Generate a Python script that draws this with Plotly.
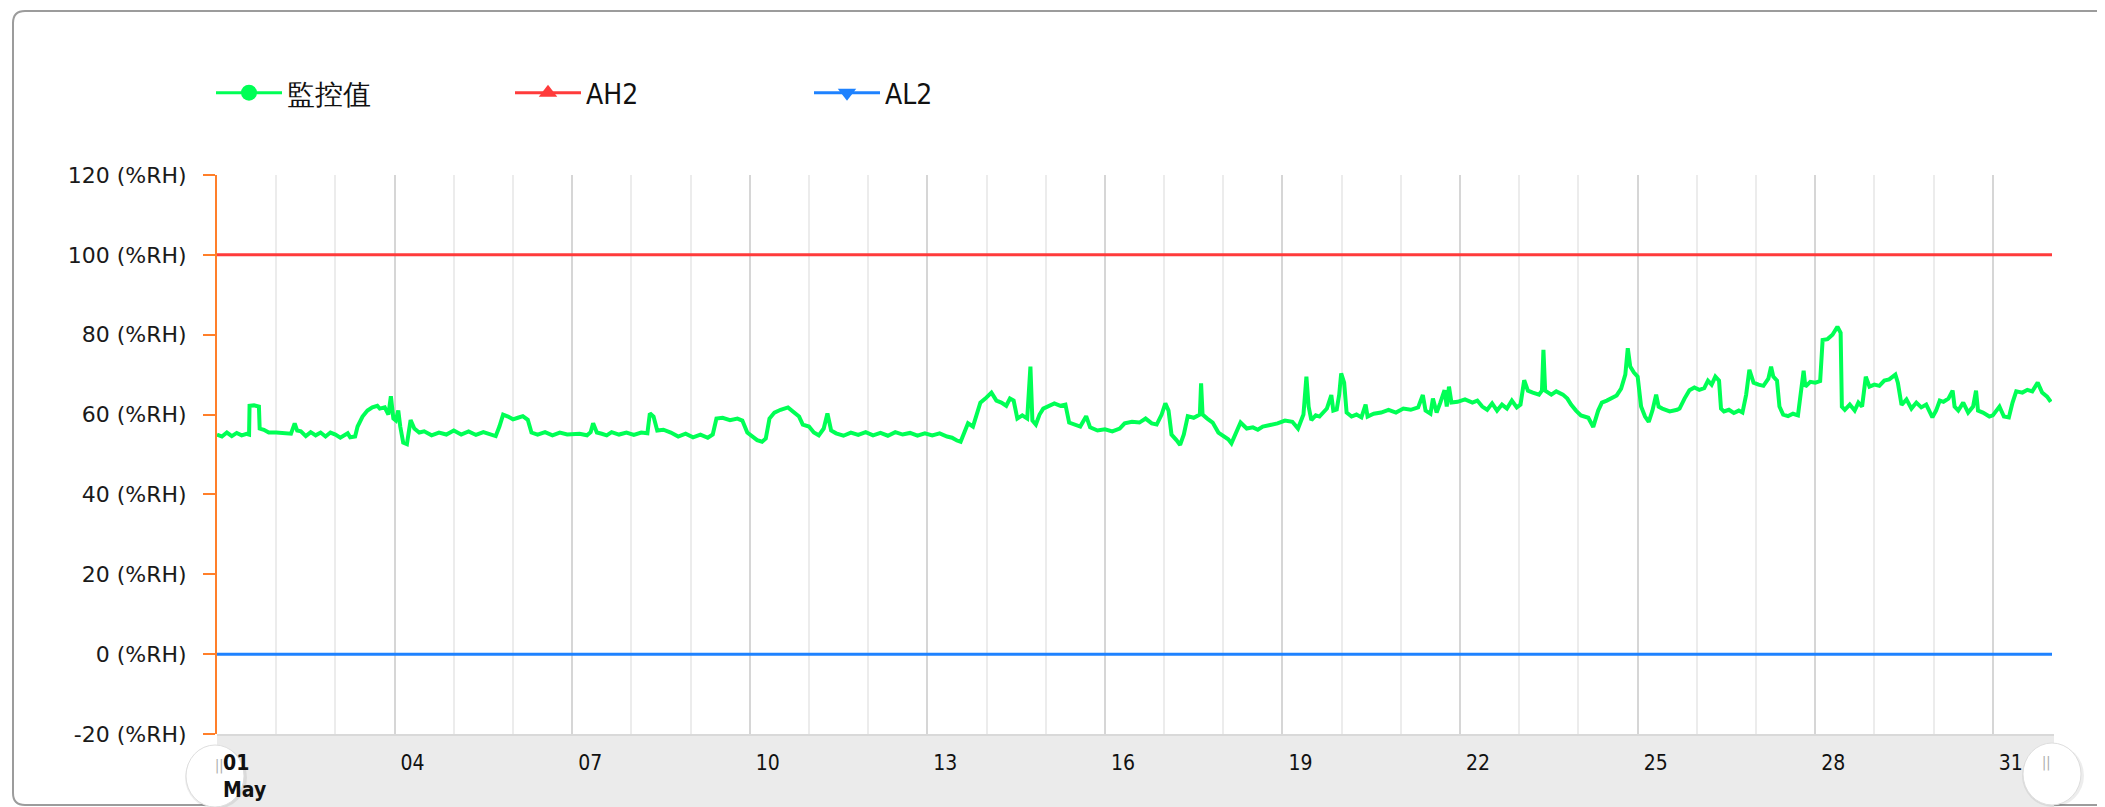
import pandas as pd
import plotly.graph_objects as go

# ---------------- data ----------------
START = "2023-05-01 00:00"
END = "2023-06-01 00:00"

# hours since May 1 00:00 and monitored humidity values (%RH)
monitor_hours = [
    0, 2, 4, 6, 8, 10, 12, 13, 13.2, 15, 17, 17.3, 19, 21, 24, 27, 30, 31.5, 32.5, 34,
    36, 38, 40, 42, 44, 46, 48, 50, 53, 54, 56, 57, 59, 61, 63, 65, 66, 68, 69.5, 70.5,
    71.5, 72.5, 73.5, 74.3, 75.5, 77, 78.5, 80, 82, 84, 87, 90, 93, 96, 99, 102, 105, 108, 111, 113,
    114.5, 116, 118, 120, 122, 124, 126, 127.5, 130, 133, 136, 139, 142, 147,
    150, 151.5, 152.5, 154, 156, 158, 160, 163, 166, 169, 172, 174.5, 175.5, 177, 178.5, 181,
    184, 187, 190, 193, 196, 199, 201, 202.5, 205, 208, 211, 213, 215, 217, 219, 221, 222.5, 224,
    226, 228.5, 231.5, 234, 236, 237.5, 240, 242, 244, 246, 247.5, 249, 251, 254, 257, 260, 263,
    266, 269, 272, 275, 278, 281, 284, 287, 290, 293,
    296, 298, 300, 301.5, 303, 304.5, 306.5, 308, 309.5, 311.5, 314, 316, 318, 320, 321.5, 323,
    324.5, 326.5, 328.5, 329.8, 330.6, 332, 333.5, 335, 337, 339.5, 342, 344, 345.5, 347.5, 350,
    352.4, 354, 357, 360, 363, 366, 368, 371, 374, 376.5, 379, 381, 383, 384.5, 385.8, 387, 389,
    390.5, 392, 393.6, 396, 398.5, 399, 399.6, 401.5, 403.7, 406, 408, 410, 411.3, 413, 415,
    417.5, 420, 422, 424, 427, 430, 433, 436,
    438.3, 440.5, 441.7, 442.6, 443.7, 445.5, 447, 448.4, 450, 451.8, 452.6, 454, 455, 455.8, 457,
    458, 460, 462, 464, 465.7, 466.5, 469, 472, 475, 478, 481, 484, 487, 488.9, 490, 492, 493,
    494.5, 496, 497.7, 498.6, 499.5, 500.5, 503, 506, 509, 511, 513, 515, 517, 519, 521, 523, 525,
    527, 528.5, 530, 531.5, 533.5, 536, 537.2, 537.8, 538.5, 541, 543, 545.7, 547.5, 549, 551,
    553, 556, 558, 560, 561.5, 563.5, 565.5, 567.5, 569.3, 571, 572, 573, 574.5, 576, 577.4, 579,
    580.5, 582, 583.5, 584.5, 586, 589, 592,
    593, 595, 597, 599, 601, 603, 604.5, 606, 607.5, 609, 609.8, 611, 613, 615, 617, 618.5, 620,
    621.3, 623, 625, 627, 629, 630.1, 631, 632.5, 633.5, 635, 637, 639, 641, 642, 643.3, 644, 646,
    648, 650, 651, 653, 655, 657, 658.3, 658.8, 660, 662, 664, 665.5, 667, 668.5, 670, 672, 674,
    676, 678, 680.5, 681.5, 683, 685, 687, 689, 691, 693, 695.5, 697, 698.5, 700, 702, 703.7,
    704.5, 706, 708, 710, 712, 713.2, 714, 716, 718.6, 720, 722.7, 724.5, 726.5, 728, 729.5, 732,
    734, 736, 738.2, 740, 742, 743.5,
]
monitor_values = [
    55, 54.5, 55.5, 54.6, 55.4, 54.8, 55.2, 55, 62.2, 62.3, 62, 56.5, 56.2, 55.5, 55.5, 55.3, 55.2, 57.8, 56, 55.8,
    54.6, 55.6, 54.8, 55.5, 54.5, 55.5, 55, 54.2, 55.3, 54.3, 54.5, 57, 59.5, 61, 61.8, 62.2, 61.5, 61.8, 60, 64.6,
    59, 58.5, 61, 57, 53, 52.6, 58.6, 56.5, 55.5, 55.8, 54.8, 55.5, 55, 56, 55, 55.8, 54.9, 55.6, 55, 54.6,
    57, 60, 59.5, 58.8, 59.2, 59.6, 58.7, 55.5, 55, 55.6, 54.8, 55.5, 55, 55.2,
    54.8, 55.6, 57.8, 55.5, 55.2, 54.8, 55.6, 55, 55.5, 54.9, 55.5, 55.3, 60.3, 59.5, 56, 56.2,
    55.5, 54.5, 55.2, 54.3, 55, 54.2, 55, 59, 59.2, 58.6, 59, 58.5, 55.5, 54.5, 53.6, 53.2, 54, 59,
    60.5, 61.2, 61.8, 60.5, 59.5, 57.5, 57, 55.5, 54.8, 56.5, 60.3, 56, 55.3, 54.7, 55.5, 54.9, 55.6,
    54.8, 55.4, 54.7, 55.6, 55, 55.4, 54.7, 55.3, 54.8, 55.3,
    54.5, 54.2, 53.5, 53.2, 55.5, 57.8, 57, 60, 63, 64, 65.5, 63.5, 63, 62.2, 64, 63.5,
    59, 59.8, 59, 72, 58.5, 57.5, 60, 61.5, 62, 62.8, 62.2, 62.5, 58, 57.5, 57,
    59.6, 56.8, 56, 56.3, 55.8, 56.5, 57.8, 58.2, 58, 59, 57.8, 57.5, 60, 62.8, 61, 55, 53.6,
    52.4, 55, 59.6, 59.2, 60, 67.8, 60, 59, 58, 55.5, 54.5, 53.8, 52.8, 55.5, 58,
    56.5, 56.8, 56.2, 57, 57.4, 57.8, 58.5, 58.2,
    56.5, 60, 69.5, 62, 58.6, 59.8, 59.5, 60.3, 61.5, 64.9, 61, 61.3, 65, 70.3, 68,
    60.5, 59.5, 60, 59.3, 62.5, 59.5, 60.2, 60.5, 61.2, 60.5, 61.5, 61.2, 61.8, 64.9, 61, 60.2, 64,
    60.5, 63, 66.1, 62, 67, 63, 63.2, 63.8, 63, 63.5, 62, 61.2, 62.8, 61, 62.5, 61.5, 63.5,
    61.8, 62.5, 68.6, 66, 65.5, 65, 66, 76.2, 66, 65, 65.8, 65, 64, 62.5, 61,
    59.8, 59.2, 56.9, 61, 63, 63.5, 64.2, 64.8, 66.5, 70, 76.6, 72, 70.5, 69.5, 62, 59.5,
    58.2, 61, 65, 62, 61.5, 60.8, 61.2,
    61.5, 64, 66.1, 66.8, 66.2, 66.6, 68.5, 67.5, 69.5, 68.5, 61.5, 60.8, 61.2, 60.4, 61, 60.5, 65,
    71.2, 68, 67.5, 67.2, 69, 72, 69.5, 68.5, 62, 60, 59.6, 60.2, 59.8, 64, 71, 67, 68.2,
    68, 68.4, 78.7, 78.9, 80, 82, 80.5, 62, 61.2, 62.5, 61, 63, 62, 69.5, 67, 67.5, 67.2,
    68.5, 68.8, 70, 68, 62.4, 63.8, 61.5, 63, 61.8, 62.5, 59.3, 61, 63.5, 63.2, 64, 66,
    62, 61, 63, 60.5, 62, 66, 61, 60.5, 59.5, 59.8, 62, 59.5, 59.3, 63, 65.8, 65.5,
    66.2, 65.8, 68, 65.5, 64.5, 63.2,
]

limit_times = [START, END]
ah2_values = [100, 100]
al2_values = [0, 0]

series_names = ["監控值", "AH2", "AL2"]
y_ticks = [-20, 0, 20, 40, 60, 80, 100, 120]
y_tick_labels = ["-20 (%RH)", "0 (%RH)", "20 (%RH)", "40 (%RH)", "60 (%RH)",
                 "80 (%RH)", "100 (%RH)", "120 (%RH)"]
x_tick_dates = ["2023-05-%02d" % d for d in range(1, 32, 3)]
x_tick_labels = ["<b>01<br>May</b>"] + ["%02d" % d for d in range(4, 32, 3)]

# ---------------- styling ----------------
OFF = 8                      # page (body) margin in the browser
W, H = 2105 - OFF, 807 - OFF
ML, MT = 217 - OFF, 175 - OFF
MR = W - (2052 - OFF)
MB = H - (734 - OFF)
PW, PH = W - ML - MR, H - MT - MB

GREEN = "#00ff55"
RED = "#ff3b3b"
BLUE = "#1e82ff"
ORANGE = "#ff7f2a"


def px(x):
    """screen x pixel -> paper fraction"""
    return (x - OFF - ML) / PW


def py(y):
    """screen y pixel -> paper fraction"""
    return (H - MB - (y - OFF)) / PH


times = pd.Timestamp(START) + pd.to_timedelta(monitor_hours, unit="h")

fig = go.Figure()
fig.add_trace(go.Scatter(x=limit_times, y=ah2_values, mode="lines", name=series_names[1],
                         line=dict(color=RED, width=3), showlegend=False, hoverinfo="skip"))
fig.add_trace(go.Scatter(x=limit_times, y=al2_values, mode="lines", name=series_names[2],
                         line=dict(color=BLUE, width=3), showlegend=False, hoverinfo="skip"))
fig.add_trace(go.Scatter(x=times, y=monitor_values, mode="lines", name=series_names[0],
                         line=dict(color=GREEN, width=4), showlegend=False))

# legend entries (line + symbol)
for name, color, sym in [(series_names[0], GREEN, "circle"),
                         (series_names[1], RED, "triangle-up"),
                         (series_names[2], BLUE, "triangle-down")]:
    fig.add_trace(go.Scatter(x=[None], y=[None], mode="lines+markers", name=name,
                             line=dict(color=color, width=3),
                             marker=dict(symbol=sym, size=16, color=color)))

r = 12
frame_path = (
    f"M {px(2130)},{py(805)} L {px(13 + r)},{py(805)} "
    f"Q {px(13)},{py(805)} {px(13)},{py(805 - r)} "
    f"L {px(13)},{py(11 + r)} Q {px(13)},{py(11)} {px(13 + r)},{py(11)} "
    f"L {px(2130)},{py(11)}"
)

shapes = [
    dict(type="path", xref="paper", yref="paper", path=frame_path,
         line=dict(color="#9c9c9c", width=2), layer="below"),
    dict(type="rect", xref="paper", yref="paper", x0=px(217), x1=px(2054), y0=py(812), y1=py(734),
         fillcolor="#ebebeb", line=dict(width=0), layer="below"),
    dict(type="line", xref="paper", yref="paper", x0=px(217), x1=px(2054), y0=py(735), y1=py(735),
         line=dict(color="#d9d9d9", width=2), layer="below"),
]
for cx, cy in [(215, 776), (2052, 774)]:
    shapes.append(dict(type="circle", xref="paper", yref="paper",
                       x0=px(cx - 30), x1=px(cx + 32), y0=py(cy + 33), y1=py(cy - 30),
                       fillcolor="rgba(0,0,0,0.07)", line=dict(width=0), layer="below"))
    shapes.append(dict(type="circle", xref="paper", yref="paper",
                       x0=px(cx - 29), x1=px(cx + 29), y0=py(cy + 31), y1=py(cy - 31),
                       fillcolor="#ffffff", line=dict(color="#dedede", width=1), layer="below"))

annotations = [
    dict(xref="paper", yref="paper", x=px(213), y=py(776), text="||", showarrow=False,
         font=dict(size=14, color="#aaaaaa", family="DejaVu Sans Condensed, DejaVu Sans")),
    dict(xref="paper", yref="paper", x=px(2053), y=py(773), text="||", showarrow=False,
         font=dict(size=14, color="#aaaaaa", family="DejaVu Sans Condensed, DejaVu Sans")),
]

fig.update_layout(
    width=W, height=H,
    margin=dict(l=ML, r=MR, t=MT, b=MB, autoexpand=False),
    paper_bgcolor="white", plot_bgcolor="white",
    shapes=shapes, annotations=annotations,
    legend=dict(orientation="h", x=px(211), xanchor="left", y=py(93), yanchor="middle",
                font=dict(size=28, family="DejaVu Sans Condensed, DejaVu Sans", color="#111"),
                entrywidth=218, entrywidthmode="pixels", itemwidth=66, bgcolor="rgba(0,0,0,0)"),
    xaxis=dict(
        type="date", range=[START, END],
        tickmode="array", tickvals=x_tick_dates, ticktext=x_tick_labels,
        ticks="", showline=False, zeroline=False,
        showgrid=True, gridcolor="#d6d6d6", gridwidth=1.5,
        minor=dict(dtick=86400000, tick0=START, showgrid=True, gridcolor="#ececec", gridwidth=1.5),
        ticklabelposition="outside right", ticklabelshift=6, ticklabelstandoff=14,
        tickfont=dict(size=21, family="DejaVu Sans Condensed, DejaVu Sans", color="#111"),
    ),
    yaxis=dict(
        range=[-20, 120], tickmode="array", tickvals=y_ticks, ticktext=y_tick_labels,
        showline=True, linecolor=ORANGE, linewidth=2,
        ticks="outside", ticklen=12, tickcolor=ORANGE, tickwidth=2,
        showgrid=False, zeroline=False, ticklabelstandoff=12,
        tickfont=dict(size=22, family="DejaVu Sans", color="#1a1a1a"),
    ),
)

fig.write_html("out.html")
